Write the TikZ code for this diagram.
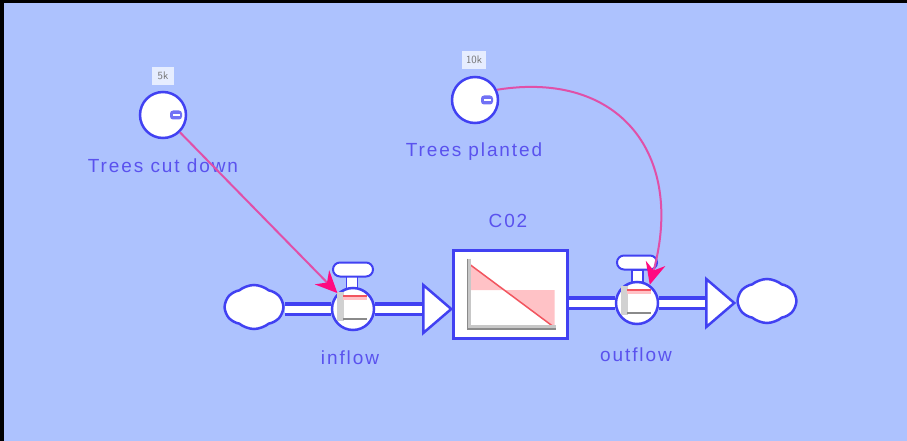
\documentclass[tikz,border=0pt]{standalone}
\usepackage{fontspec}
\newfontfamily\sdfont[LetterSpace=10]{Liberation Sans}
\usepackage{xcolor}
\definecolor{sdSky}{HTML}{ADC2FE}
\definecolor{sdBlue}{HTML}{4141F2}
\definecolor{sdInk}{HTML}{5A52EE}
\definecolor{sdLink}{HTML}{E050A8}
\definecolor{sdHead}{HTML}{FF0A80}
\definecolor{sdRose}{HTML}{FFC2C6}
\definecolor{sdRed}{HTML}{F2555F}
\definecolor{sdAsh}{HTML}{8A8A8A}
\usepackage{tikz}
\usetikzlibrary{positioning,arrows.meta,shapes.geometric,shapes.symbols,backgrounds}

\begin{document}
\begin{tikzpicture}[x=1pt,y=-1pt,
    every node/.style={font=\sdfont\fontsize{19}{22}\selectfont,text=sdInk},
    conv/.style={circle,draw=sdBlue,line width=2.5pt,fill=white,
                 minimum size=46pt,inner sep=0pt},
    knob/.style={rectangle,rounded corners=3pt,fill=sdBlue!75,
                 minimum width=12pt,minimum height=9pt,inner sep=0pt},
    valve/.style={circle,draw=sdBlue,line width=2.5pt,fill=white,
                  minimum size=42pt,inner sep=0pt},
    handle/.style={rectangle,rounded corners=7pt,draw=sdBlue,line width=2pt,
                   fill=white,minimum width=40pt,minimum height=14pt,inner sep=0pt},
    stem/.style={rectangle,draw=sdBlue,line width=1.5pt,fill=white,
                 minimum width=11pt,minimum height=14pt,inner sep=0pt},
    stockbox/.style={rectangle,draw=sdBlue,line width=3pt,fill=white,
                     minimum width=114pt,minimum height=88pt,inner sep=0pt},
    sink/.style={cloud,cloud puffs=6,cloud puff arc=80,draw=sdBlue,line width=2.5pt,
                 fill=white,minimum width=58pt,minimum height=44pt,inner sep=0pt},
    spout/.style={isosceles triangle,isosceles triangle stretches,draw=sdBlue,
                  line width=2.5pt,fill=white,minimum width=48pt,minimum height=28pt,
                  inner sep=0pt,anchor=lower side},
    tag/.style={rectangle,fill=white!70!sdSky,text=black!55,minimum height=18pt,
                minimum width=22pt,font=\sffamily\fontsize{11}{11}\selectfont,
                inner xsep=4pt,inner ysep=2pt},
    pipe/.style={draw=sdBlue,line width=3.5pt,double=white,double distance=7pt},
    link/.style={-{Stealth[length=22pt,width=20pt,color=sdHead]},sdLink,line width=2pt},
  ]

  % Converters and their value tags
  \node[conv] (cutdown) at (163,115) {};
  \node[knob,xshift=13pt] (cutknob) at (cutdown) {};
  \node[tag] (cuttag) at (163,76) {5k};
  \node (cutlbl) at (163,166) {Trees cut down};

  \node[conv] (planted) at (475,100) {};
  \node[knob,xshift=12pt] (plantknob) at (planted) {};
  \node[tag] (planttag) at (474,60) {10k};
  \node (plantlbl) at (474,152) {Trees planted};

  \foreach \kn in {cutknob,plantknob}
    \draw[white,line width=1.5pt] ([xshift=-3pt]\kn.center) -- ([xshift=4pt]\kn.center);

  % The stock
  \node[stockbox] (co2) at (510.5,294.5) {};
  \node (co2lbl) at (508,221) {C02};
  \begin{scope}[shift={(co2.center)}]
    \fill[sdRose] (-42,-31) -- (44,33) -- (44,-4.5) -- (-42,-4.5) -- cycle;
    \draw[sdRed,line width=1.5pt] (-42,-31) -- (44,33);
    \draw[black!22,line width=3pt] (-41,-36) -- (-41,32) -- (45,32);
    \draw[sdAsh,line width=1.5pt] (-43,-36) -- (-43,34.5) -- (45,34.5);
  \end{scope}

  % Inflow side: cloud, valve, spout
  \node[sink] (source) at (254,307) {};
  \node[stem] (instem) at (352,283) {};
  \node[valve] (inflow) at (353,309) {};
  \node[handle] (inhandle) at (353,269.5) {};
  \node[spout] (inhead) at (422,309) {};
  \node (inlbl) at (350,358) {inflow};

  % Outflow side: valve, spout, cloud
  \node[stem] (outstem) at (637.5,277) {};
  \node[valve] (outflow) at (637,303) {};
  \node[handle] (outhandle) at (637,262.5) {};
  \node[spout] (outhead) at (705,303) {};
  \node[sink] (drain) at (767,301) {};
  \node (outlbl) at (636,355) {outflow};

  % little stock icon inside each valve
  \foreach \valv in {inflow,outflow}{
    \begin{scope}[shift={(\valv.center)}]
      \fill[black!18] (-16,-17) rectangle (-9,12);
      \fill[sdRose] (-10,-12) rectangle (14,-9);
      \draw[sdRed,line width=2pt] (-10,-13) -- (14,-13);
      \draw[sdAsh,line width=2pt] (-10,10) -- (14,10);
    \end{scope}
  }

  % Background and pipes
  \begin{scope}[on background layer]
    \fill (0,0) rectangle (907,441);
    \fill[sdSky] (4,3) rectangle (907,441);
    \draw[pipe] (source.east |- inflow) -- (inflow.west);
    \draw[pipe] (inflow.east) -- (inhead.lower side);
    \draw[pipe] (co2.east |- outflow) -- (outflow.west);
    \draw[pipe] (outflow.east) -- (outhead.lower side);
  \end{scope}

  % Information links
  \draw[link] (cutdown) -- (inflow);
  \draw[link] (planted.25) .. controls (620,70) and (685,155) .. (outflow.55);

\end{tikzpicture}
\end{document}
